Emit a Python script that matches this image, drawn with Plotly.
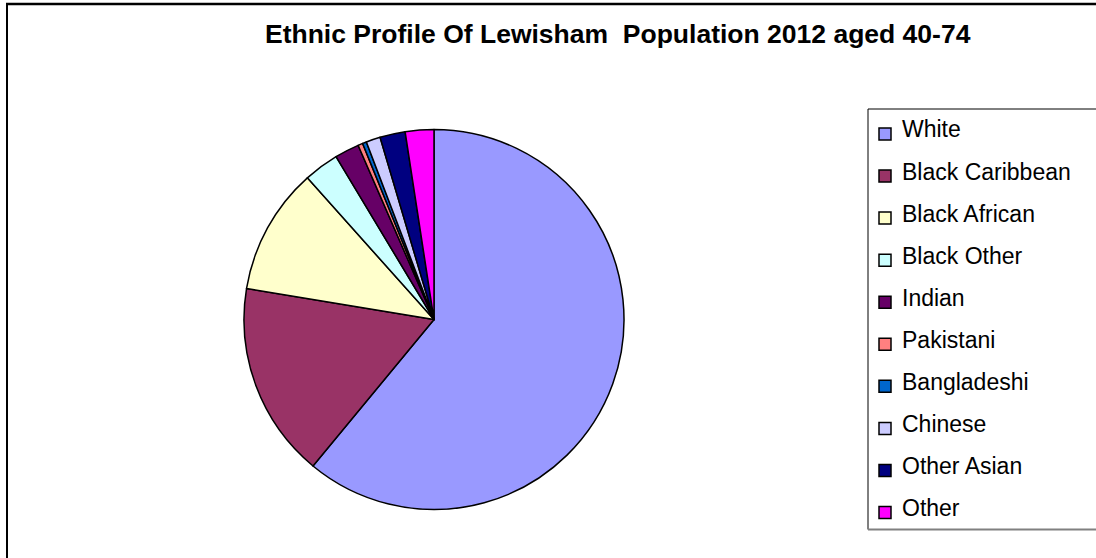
import plotly.graph_objects as go

categories = ["White", "Black Caribbean", "Black African", "Black Other", "Indian",
              "Pakistani", "Bangladeshi", "Chinese", "Other Asian", "Other"]
values = [60.99, 16.62, 10.78, 2.99, 2.08, 0.41, 0.34, 1.21, 2.15, 2.43]
colors = ["#9999FF", "#993366", "#FFFFCC", "#CCFFFF", "#660066",
          "#FF8080", "#0066CC", "#CCCCFF", "#000080", "#FF00FF"]
title_text = "Ethnic Profile Of Lewisham  Population 2012 aged 40-74"

W, H = 1096, 558
def px(x):
    return x / W
def py(y):
    return 1 - y / H

cx, cy, r = 434, 319.5, 190

fig = go.Figure(go.Pie(
    labels=categories, values=values, sort=False, direction="clockwise",
    rotation=0, textinfo="none", hoverinfo="label+percent",
    marker=dict(colors=colors, line=dict(color="black", width=1.5)),
    domain=dict(x=[px(cx - r), px(cx + r)], y=[py(cy + r), py(cy - r)]),
    showlegend=False,
))

shapes = []
annotations = []
# outer chart border (left and top visible)
shapes.append(dict(type="line", xref="paper", yref="paper", x0=px(7), x1=px(7), y0=py(3), y1=py(H + 5),
                   line=dict(color="black", width=2)))
shapes.append(dict(type="line", xref="paper", yref="paper", x0=px(6), x1=px(W + 5), y0=py(4), y1=py(4),
                   line=dict(color="black", width=2.5)))
# legend box
lx0, ly0, ly1 = 868, 109, 529.5
shapes.append(dict(type="line", xref="paper", yref="paper", x0=px(lx0), x1=px(W + 5), y0=py(ly0), y1=py(ly0),
                   line=dict(color="black", width=1)))
shapes.append(dict(type="line", xref="paper", yref="paper", x0=px(lx0), x1=px(lx0), y0=py(ly0), y1=py(ly1),
                   line=dict(color="black", width=1)))
shapes.append(dict(type="line", xref="paper", yref="paper", x0=px(lx0), x1=px(W + 5), y0=py(ly1), y1=py(ly1),
                   line=dict(color="#808080", width=2)))

y_first, gap = 129.5, 42.06
for i, (name, col) in enumerate(zip(categories, colors)):
    yc = y_first + gap * i
    shapes.append(dict(type="rect", xref="paper", yref="paper",
                       x0=px(879), x1=px(891), y0=py(yc + 10.5), y1=py(yc - 1.5),
                       fillcolor=col, line=dict(color="black", width=1.5)))
    annotations.append(dict(xref="paper", yref="paper", x=px(900), y=py(yc), text=name,
                            showarrow=False, xanchor="left", yanchor="middle",
                            font=dict(family="Liberation Sans, Arial", size=23, color="black")))

annotations.append(dict(xref="paper", yref="paper", x=px(618), y=py(34), text="<b>" + title_text + "</b>",
                        showarrow=False, xanchor="center", yanchor="middle",
                        font=dict(family="Liberation Sans, Arial", size=26.5, color="black")))

fig.update_layout(
    width=W, height=H, margin=dict(l=0, r=0, t=0, b=0),
    paper_bgcolor="white", plot_bgcolor="white",
    shapes=shapes, annotations=annotations,
)

fig.write_html("out.html")
